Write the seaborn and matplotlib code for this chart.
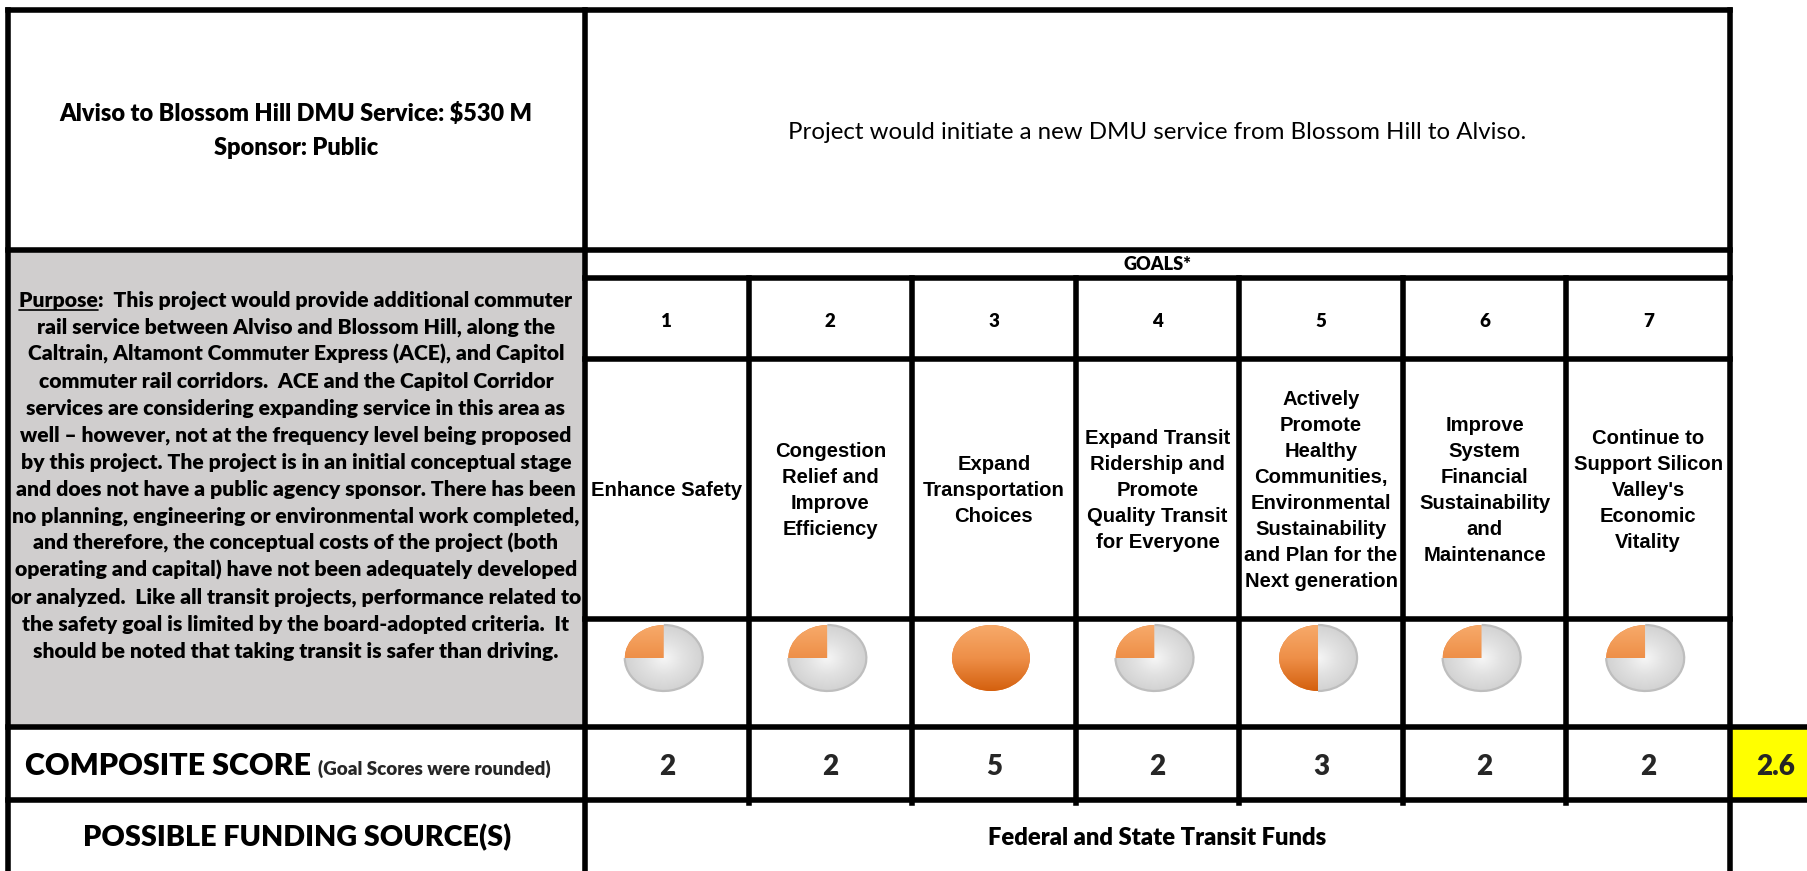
import numpy as np
import matplotlib
matplotlib.use("Agg")
import matplotlib.pyplot as plt
import seaborn as sns
from matplotlib.colors import LinearSegmentedColormap
from matplotlib.patches import Arc, Rectangle

# ---------------- data ----------------
project_title = ["Alviso to Blossom Hill DMU Service: $530 M", "Sponsor: Public"]
description = "Project would initiate a new DMU service from Blossom Hill to Alviso."
purpose_lines = [
    "Purpose:  This project would provide additional commuter",
    "rail service between Alviso and Blossom Hill, along the",
    "Caltrain, Altamont Commuter Express (ACE), and Capitol",
    "commuter rail corridors.  ACE and the Capitol Corridor",
    "services are considering expanding service in this area as",
    "well \u2013 however, not at the frequency level being proposed",
    "by this project. The project is in an initial conceptual stage",
    "and does not have a public agency sponsor. There has been",
    "no planning, engineering or environmental work completed,",
    "and therefore, the conceptual costs of the project (both",
    "operating and capital) have not been adequately developed",
    "or analyzed.  Like all transit projects, performance related to",
    "the safety goal is limited by the board-adopted criteria.  It",
    "should be noted that taking transit is safer than driving.",
]
goals_header = "GOALS*"
goal_numbers = ["1", "2", "3", "4", "5", "6", "7"]
goal_names = [
    ["Enhance Safety"],
    ["Congestion", "Relief and", "Improve", "Efficiency"],
    ["Expand", "Transportation", "Choices"],
    ["Expand Transit", "Ridership and", "Promote", "Quality Transit", "for Everyone"],
    ["Actively", "Promote", "Healthy", "Communities,", "Environmental",
     "Sustainability", "and Plan for the", "Next generation"],
    ["Improve", "System", "Financial", "Sustainability", "and", "Maintenance"],
    ["Continue to", "Support Silicon", "Valley's", "Economic", "Vitality"],
]
goal_scores = [2, 2, 5, 2, 3, 2, 2]
composite_score = 2.6
composite_label = "COMPOSITE SCORE"
composite_note = "(Goal Scores were rounded)"
funding_label = "POSSIBLE FUNDING SOURCE(S)"
funding_source = "Federal and State Transit Funds"

# ---------------- style ----------------
sns.set_theme(style="white")
plt.rcParams['font.family'] = ['Lato', 'DejaVu Sans']
BODY = ['Lato', 'DejaVu Sans']
ARIAL = ['Liberation Sans', 'DejaVu Sans']
HEAVY = 'heavy'

W, H = 1808, 871
fig = plt.figure(figsize=(W / 100, H / 100), dpi=100)
fig.patch.set_facecolor('white')
ax = fig.add_axes([0, 0, 1, 1])
ax.set_xlim(0, W)
ax.set_ylim(H, 0)
ax.axis('off')
renderer = fig.canvas.get_renderer()

# layout (pixels)
XLB, XL, XR = 8, 585, 1730
edges = np.linspace(XL, XR, len(goal_numbers) + 1)
centers = (edges[:-1] + edges[1:]) / 2
YT, Y1, Y2, Y3, Y4, Y5, Y6 = 10, 250, 278, 359, 619, 727, 800
LW = 4.0


def measure(s, size, family, weight):
    t = ax.text(0, 0, s, fontsize=size, family=family, weight=weight)
    w = t.get_window_extent(renderer=renderer).width
    t.remove()
    return w


def fit(s, target, family, weight, probe=20.0):
    return probe * target / measure(s, probe, family, weight)


def put(x, cy, s, size, family=BODY, weight='bold', ha='center'):
    px = size / 0.72
    return ax.text(x, cy + 0.36 * px, s, fontsize=size, family=family,
                   weight=weight, ha=ha, va='baseline', color='black', zorder=5)


# background fills
ax.add_patch(Rectangle((XLB, Y1), XL - XLB, Y5 - Y1, facecolor='#D0CECE',
                       edgecolor='none', zorder=0))
ax.add_patch(Rectangle((XR, Y5), W - XR, Y6 - Y5, facecolor='#FFFF00',
                       edgecolor='none', zorder=0))

# grid lines
kw = dict(colors='black', linewidth=LW, capstyle='projecting', zorder=4)
ax.hlines([YT, Y1], XLB, XR, **kw)
ax.hlines([Y2, Y3, Y4], XL, XR, **kw)
ax.hlines([Y5, Y6], XLB, W + 5, **kw)
ax.vlines([XLB, XL, XR], YT, H + 5, **kw)
ax.vlines(edges[1:-1], Y2, Y6 + 3, **kw)

# header texts
s_title = fit(project_title[0], 473, BODY, HEAVY)
put(296, 113, project_title[0], s_title, weight=HEAVY)
put(296, 147, project_title[1], s_title, weight=HEAVY)
s_desc = fit(description, 737, BODY, 'normal')
put((XL + XR) / 2, 130, description, s_desc, weight='normal')
s_goals = fit(goals_header, 68, BODY, HEAVY)
put((XL + XR) / 2, 263, goals_header, s_goals, weight=HEAVY)

# purpose text
longest = max(purpose_lines, key=lambda s: measure(s, 20, BODY, HEAVY))
s_purp = fit(longest, 572, BODY, HEAVY)
py0, pdy = 299, 27
for i, line in enumerate(purpose_lines):
    t = put(296, py0 + i * pdy, line, s_purp, weight=HEAVY)
    if i == 0:
        wl = measure(line, s_purp, BODY, HEAVY)
        wp = measure("Purpose", s_purp, BODY, HEAVY)
        x0 = 296 - wl / 2
        yb = py0 + 0.36 * s_purp / 0.72 + 3
        ax.plot([x0, x0 + wp], [yb, yb], color='black', lw=1.2, zorder=5)

# goal numbers and names
for cx, num in zip(centers, goal_numbers):
    put(cx, 320, num, 13.5, weight=HEAVY)
s_name = fit("Enhance Safety", 151, ARIAL, 'bold')
ndy = 26
for cx, lines in zip(centers, goal_names):
    n = len(lines)
    y0 = 489 - (n - 1) * ndy / 2
    for j, ln in enumerate(lines):
        put(cx, y0 + j * ndy, ln, s_name, family=ARIAL)

# pies (Harvey balls)
cmap_or = LinearSegmentedColormap.from_list('or', ['#F7AA6A', '#EE8F48', '#D4600E'])
cmap_gr = LinearSegmentedColormap.from_list('gr', ['#F6F6F6', '#E2E2E2', '#D2D2D2'])
grad_v = np.linspace(0, 1, 256).reshape(-1, 1)
yy, xx = np.mgrid[-1:1:240j, -1:1:240j]
rr = np.clip(np.sqrt(xx ** 2 + yy ** 2), 0, 1)
pw, ph, pcy, pad = 78, 66, 658, 1.08
for cx, score in zip(centers, goal_scores):
    cx = cx - 3
    f = (score - 1) / 4
    axp = fig.add_axes([(cx - pw / 2 * pad) / W, 1 - (pcy + ph / 2 * pad) / H,
                        pw * pad / W, ph * pad / H])
    wedges, _ = axp.pie([f, 1 - f], startangle=90, counterclock=True,
                        colors=['#E8823A', '#E0E0E0'],
                        wedgeprops=dict(linewidth=0))
    im1 = axp.imshow(grad_v, cmap=cmap_or, extent=[-1, 1, -1, 1], aspect='auto',
                     origin='upper', zorder=2, vmin=0, vmax=1)
    im1.set_clip_path(wedges[0])
    im2 = axp.imshow(rr, cmap=cmap_gr, extent=[-1, 1, -1, 1], aspect='auto',
                     zorder=2, vmin=0, vmax=1)
    im2.set_clip_path(wedges[1])
    if f < 1:
        axp.add_patch(Arc((0, 0), 2, 2, theta1=90 + 360 * f, theta2=450,
                          color='#BEBEBE', lw=1.6, zorder=3))
    axp.set_aspect('auto')
    axp.set_xlim(-pad, pad)
    axp.set_ylim(-pad, pad)
    axp.axis('off')

# composite row
s_big = 20
for cx, score in zip(centers, goal_scores):
    ax.text(cx, 775, str(score), fontsize=s_big, family=BODY, weight=HEAVY,
            ha='center', va='baseline', zorder=5)
ax.text((XR + W) / 2 + 7, 775, f"{composite_score:.1f}", fontsize=s_big,
        family=BODY, weight=HEAVY, ha='center', va='baseline', zorder=5)
s_cl = fit(composite_label, 286, BODY, HEAVY)
s_cn = fit(composite_note, 232, BODY, HEAVY)
w_cl = measure(composite_label, s_cl, BODY, HEAVY)
xs = 25
put(xs, 764, composite_label, s_cl, ha='left', weight=HEAVY)
ax.text(xs + w_cl + 7, 764 + 0.36 * s_cl / 0.72, composite_note, fontsize=s_cn,
        family=BODY, weight=HEAVY, ha='left', va='baseline', zorder=5)

# funding row
s_fl = fit(funding_label, 428, BODY, HEAVY)
put(297, 836, funding_label, s_fl, weight=HEAVY)
s_fs = fit(funding_source, 339, BODY, HEAVY)
put((XL + XR) / 2, 836, funding_source, s_fs, weight=HEAVY)

fig.savefig("out.png", dpi=100, facecolor='white')
